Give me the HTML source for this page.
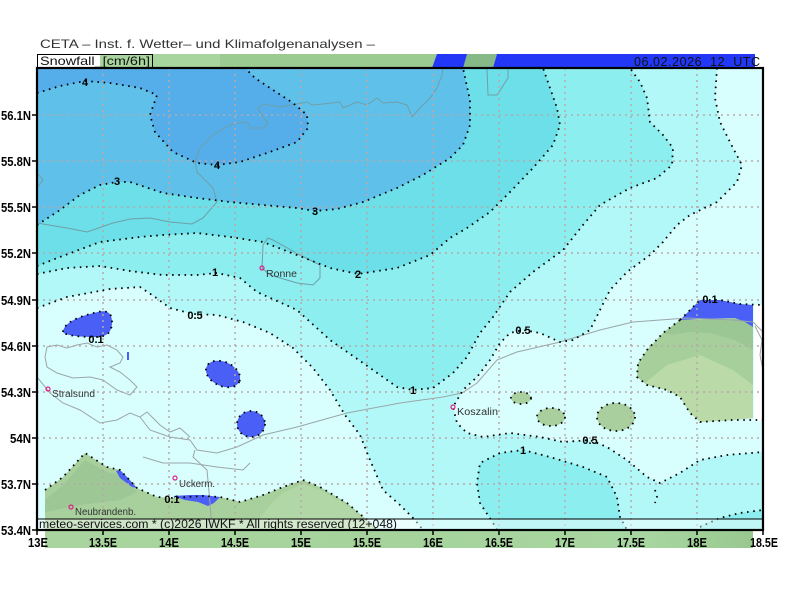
<!DOCTYPE html>
<html><head><meta charset="utf-8"><style>
html,body{margin:0;padding:0;background:#fff;}
svg{display:block;}
</style></head><body>
<svg width="800" height="600" viewBox="0 0 800 600" xmlns="http://www.w3.org/2000/svg">
<defs>
<clipPath id="fr"><rect x="37" y="68" width="726" height="462"/></clipPath>
<linearGradient id="bstrip" x1="0" x2="1" y1="0" y2="0">
<stop offset="0" stop-color="#a9d49f"/><stop offset="0.5" stop-color="#a6d39c"/><stop offset="0.85" stop-color="#a8d6a0"/><stop offset="1" stop-color="#98c88f"/>
</linearGradient>
</defs>
<rect width="800" height="600" fill="#fff"/>

<!-- title -->
<text x="40" y="48" font-family="Liberation Sans, sans-serif" font-size="12" fill="#333" textLength="335" lengthAdjust="spacingAndGlyphs">CETA – Inst. f. Wetter– und Klimafolgenanalysen –</text>

<!-- header strip -->
<rect x="37" y="54" width="726" height="14" fill="#9bcb91"/>
<rect x="100" y="54" width="120" height="14" fill="#a7d59d"/>
<polygon points="437,54 467,54 467,68 432,68" fill="#2238f6"/>
<polygon points="467,54 497,54 493,68 463,68" fill="#86b888"/>
<polygon points="497,54 755,54 755,68 493,68" fill="#2238f6"/>
<rect x="755" y="54" width="8" height="14" fill="#fff"/>
<rect x="37" y="54" width="63" height="14" fill="#fff"/>
<rect x="37.5" y="54.5" width="115" height="13" fill="none" stroke="#000" stroke-width="1"/>
<text x="40" y="65" font-family="Liberation Sans, sans-serif" font-size="12" fill="#111" textLength="110" lengthAdjust="spacingAndGlyphs">Snowfall_[cm/6h]</text>
<text x="634" y="66" font-family="Liberation Sans, sans-serif" font-size="12.5" fill="#111" textLength="126" lengthAdjust="spacing" xml:space="preserve">06.02.2026  12  UTC</text>

<!-- bottom strip -->
<rect x="45" y="531" width="708" height="17" fill="url(#bstrip)"/>

<g clip-path="url(#fr)">
<rect x="37" y="68" width="726" height="462" fill="#b3f8f8"/>
<polygon fill="#d9fefe" points="37,308 67,297 110,289 140,287 155,297 170,308 193,314 217,315 243,322 270,333 293,348 313,368 330,390 345,415 360,435 370,460 383,490 400,505 415,520 423,530 37,530"/>
<polygon fill="#d9fefe" points="717,68 715,98 720,122 733,148 742,165 737,182 717,202 690,215 677,225 663,242 650,255 627,272 610,290 600,310 590,330 573,340 560,342 540,333 523,330 510,333 500,343 490,360 477,377 463,390 453,407 457,423 467,433 483,437 510,433 540,437 563,442 590,440 607,447 627,460 647,477 660,483 680,473 700,460 727,455 763,452 763,68"/>
<polygon fill="#8ceeee" points="37,68 37,274 67,268 100,266 130,271 163,275 197,275 217,273 240,278 257,292 297,310 330,340 363,363 397,387 413,390 433,388 453,373 467,357 480,333 493,317 510,292 533,272 563,250 583,225 600,205 630,188 657,178 672,165 673,148 663,135 650,122 647,98 640,82 630,68"/>
<polygon fill="#8ceeee" points="477,483 480,463 500,453 523,450 550,457 583,467 607,477 617,497 620,517 627,530 497,530 493,523 480,503"/>
<polygon fill="#8ceeee" points="700,530 700,525 720,518 740,513 763,510 763,530"/>
<polygon fill="#6ddfe8" points="37,68 37,266 60,257 100,242 140,237 163,235 197,233 230,237 263,242 297,255 330,268 358,274 397,268 430,255 450,238 467,228 490,212 510,192 533,168 553,145 560,125 557,108 550,88 543,68"/>
<polygon fill="#5fc0ea" points="37,68 37,225 60,210 80,195 100,185 117,182 130,182 163,193 197,198 230,202 263,205 297,208 315,211 337,209 363,202 397,188 423,175 450,158 463,145 470,125 470,100 466,82 463,68"/>
<polygon fill="#55aee9" points="37,68 37,93 60,86 85,81 110,83 140,88 157,95 150,115 155,132 173,152 197,163 217,165 240,162 270,152 297,142 308,128 307,115 293,103 273,90 255,78 245,68"/>

<polygon fill="#a6cf9c" points="680,320 740,318 753,326 753,418 733,420 700,422 690,413 680,397 667,390 647,385 637,377 638,363 647,350 663,333"/>
<polygon fill="#9bc794" points="680,320 740,318 753,326 753,350 735,340 710,333 690,332 672,335 663,333"/>
<polygon fill="#badba8" points="645,383 667,365 700,355 733,370 753,385 753,418 733,420 700,422 690,413 680,397 667,390"/>
<polygon fill="#4a5ff5" points="680,320 690,310 700,300 720,300 740,304 753,305 753,327 745,322 735,318 700,319"/>
<rect x="754" y="305" width="9" height="116" fill="#fff"/>
<ellipse cx="521" cy="398" rx="10" ry="6" fill="#a9cf9f"/>
<ellipse cx="551" cy="417" rx="14" ry="9" fill="#a9cf9f"/>
<ellipse cx="616" cy="417" rx="19" ry="14" fill="#a9cf9f"/>
<polygon fill="#a7d09d" points="45,490 63,477 85,453 107,467 120,470 137,488 157,497 173,498 203,496 220,497 240,502 263,495 283,487 303,480 320,487 347,503 367,520 377,530 45,530"/>
<polygon fill="#b2d7a6" points="250,530 270,505 283,493 303,484 320,490 347,505 367,521 377,530"/>
<polygon fill="#9ec796" points="45,500 63,485 85,460 107,472 120,475 137,492 120,500 80,505 45,512"/>
<path fill="#4a5ff5" d="M63,332 C64,322 80,316 98,312 C106,310 112,312 112,322 C112,333 106,337 96,337 C82,337 66,336 63,332 Z"/>
<polygon fill="#4a5ff5" points="127,352 129,352 129,360 127,360"/>
<ellipse cx="223" cy="374" rx="18" ry="12" transform="rotate(25 223 374)" fill="#4a5ff5"/>
<ellipse cx="251" cy="424" rx="14" ry="13" fill="#4a5ff5"/>
<polygon fill="#4a5ff5" points="116,471 120,470 128,478 137,488 132,487 120,478"/>
<polygon fill="#4a5ff5" points="173,496 190,495 203,495 220,497 214,503 208,506 198,502 185,500"/>

<g fill="none" stroke="#6f9fa8" stroke-width="1">
<polyline points="130,219 150,218 170,222 192,224 203,218 217,202 213,188 197,172 195,162 200,148 213,135 230,125 243,122 248,123 250,128 263,128 268,123 263,117 258,108 263,104 280,107 297,104 307,102 312,105 323,104 340,102 343,108 357,102 367,105 377,98 383,103 397,102 407,105 412,117 420,108 430,98 437,88 442,75 443,68"/>
<polyline points="37,223 67,228 87,232 113,223 130,219"/>
<polyline points="37,173 43,180 37,188"/>
<polyline points="487,68 488,95 497,95 508,78 508,68"/>
<polygon points="262,268 263,245 268,238 273,240 300,255 320,265 320,278 313,285 297,283 270,275"/>
</g>
<g fill="none" stroke="#9aa6a8" stroke-width="1">
<polygon points="47,347 57,345 67,348 77,345 87,343 97,347 107,345 117,350 123,357 120,363 110,367 120,372 130,380 137,387 130,395 117,390 103,380 90,377 73,378 57,373 47,367 45,357"/>
<polyline points="37,377 50,393 63,403 80,410 100,423 117,420 130,413 140,417 150,430 170,437 190,440 197,450 217,453 237,447 263,435 297,427 347,413 400,403 443,397 462,393 477,383 497,360 517,352 560,342 600,330 633,322 687,318 733,320 753,322 763,332"/>
<polyline points="143,457 163,463 190,463 217,467 243,470 250,463"/>
<polyline points="195,450 193,457 207,470 210,503 212,530"/>
<polyline points="140,417 147,412 160,425 170,432 180,428 190,437"/>
<polyline points="755,326 762,340 760,355 763,370"/>
</g>

<g stroke="#b8a8a8" stroke-width="1.5" stroke-dasharray="2 4">
<line x1="103" y1="68" x2="103" y2="530"/><line x1="169" y1="68" x2="169" y2="530"/><line x1="235" y1="68" x2="235" y2="530"/><line x1="301" y1="68" x2="301" y2="530"/><line x1="367" y1="68" x2="367" y2="530"/><line x1="433" y1="68" x2="433" y2="530"/><line x1="499" y1="68" x2="499" y2="530"/><line x1="565" y1="68" x2="565" y2="530"/><line x1="631" y1="68" x2="631" y2="530"/><line x1="697" y1="68" x2="697" y2="530"/>
<line x1="37" y1="115" x2="763" y2="115"/><line x1="37" y1="161" x2="763" y2="161"/><line x1="37" y1="207" x2="763" y2="207"/><line x1="37" y1="253" x2="763" y2="253"/><line x1="37" y1="300" x2="763" y2="300"/><line x1="37" y1="346" x2="763" y2="346"/><line x1="37" y1="392" x2="763" y2="392"/><line x1="37" y1="438" x2="763" y2="438"/><line x1="37" y1="484" x2="763" y2="484"/>
</g>

<g fill="none" stroke="#000" stroke-width="1.8" stroke-dasharray="1.6 4.6" stroke-linecap="butt">
<polyline points="37,308 67,297 110,289 140,287 155,297 170,308 193,314 217,315 243,322 270,333 293,348 313,368 330,390 345,415 360,435 370,460 383,490 400,505 415,520 423,530"/>
<polyline points="717,68 715,98 720,122 733,148 742,165 737,182 717,202 690,215 677,225 663,242 650,255 627,272 610,290 600,310 590,330 573,340 560,342 540,333 523,330 510,333 500,343 490,360 477,377 463,390 453,407 457,423 467,433 483,437 510,433 540,437 563,442 590,440 607,447 627,460 647,477 660,483 680,473 700,460 727,455 763,452"/>
<polyline points="37,274 67,268 100,266 130,271 163,275 197,275 217,273 240,278 257,292 297,310 330,340 363,363 397,387 413,390 433,388 453,373 467,357 480,333 493,317 510,292 533,272 563,250 583,225 600,205 630,188 657,178 672,165 673,148 663,135 650,122 647,98 640,82 630,68"/>
<polyline points="497,530 493,523 480,503 477,483 480,463 500,453 523,450 550,457 583,467 607,477 617,497 620,517 627,530"/>
<polyline points="700,527 720,518 740,513 763,510"/>
<polyline points="37,266 60,257 100,242 140,237 163,235 197,233 230,237 263,242 297,255 330,268 358,274 397,268 430,255 450,238 467,228 490,212 510,192 533,168 553,145 560,125 557,108 550,88 543,68"/>
<polyline points="37,225 60,210 80,195 100,185 117,182 130,182 163,193 197,198 230,202 263,205 297,208 315,211 337,209 363,202 397,188 423,175 450,158 463,145 470,125 470,100 466,82 463,68"/>
<polyline points="37,93 60,86 85,81 110,83 140,88 157,95 150,115 155,132 173,152 197,163 217,165 240,162 270,152 297,142 308,128 307,115 293,103 273,90 255,78 245,68"/>
<polyline points="680,320 663,333 647,350 638,363 637,377 647,385 667,390 680,397 690,413 700,422 733,420 763,420"/>
<polyline points="680,320 690,310 700,300 720,300 740,304 763,305"/>
<ellipse cx="521" cy="398" rx="10" ry="6"/>
<ellipse cx="551" cy="417" rx="14" ry="9"/>
<ellipse cx="616" cy="417" rx="19" ry="14"/>
<path d="M63,332 C64,322 80,316 98,312 C106,310 112,312 112,322 C112,333 106,337 96,337 C82,337 66,336 63,332 Z"/>
<ellipse cx="223" cy="374" rx="18" ry="12" transform="rotate(25 223 374)"/>
<ellipse cx="251" cy="424" rx="14" ry="13"/>
<polyline points="45,490 63,477 85,453 107,467 120,470 137,488 157,497 173,498 203,496 220,497 240,502 263,495 283,487 303,480 320,487 347,503 367,520 377,530"/>
<polyline points="655,490 657,497 655,503"/>
</g>

<rect x="37" y="519" width="726" height="11" fill="#fff" fill-opacity="0.45"/>
<line x1="37" y1="519" x2="763" y2="519" stroke="#000" stroke-width="1"/>
</g>

<g font-family="Liberation Sans, sans-serif" font-size="11" font-weight="bold" fill="#000" text-anchor="middle">
<text x="85" y="86">4</text>
<text x="217" y="169">4</text>
<text x="117" y="185">3</text>
<text x="315" y="215">3</text>
<text x="358" y="278">2</text>
<text x="215" y="276">1</text>
<text x="195" y="319">0.5</text>
<text x="96" y="343">0.1</text>
<text x="413" y="394">1</text>
<text x="523" y="334">0.5</text>
<text x="590" y="444">0.5</text>
<text x="523" y="454">1</text>
<text x="172" y="503">0.1</text>
<text x="710" y="303">0.1</text>
</g>

<g fill="none" stroke="#e0208a" stroke-width="1.2">
<circle cx="48" cy="389" r="2"/><circle cx="262" cy="268" r="2"/><circle cx="453" cy="407" r="2"/><circle cx="175" cy="478" r="2"/><circle cx="71" cy="507" r="2"/>
</g>
<g font-family="Liberation Sans, sans-serif" font-size="10" fill="#333">
<text x="52" y="397" textLength="43" lengthAdjust="spacingAndGlyphs">Stralsund</text>
<text x="266" y="277" textLength="31" lengthAdjust="spacingAndGlyphs">Ronne</text>
<text x="457" y="415" textLength="41" lengthAdjust="spacingAndGlyphs">Koszalin</text>
<text x="179" y="487" textLength="36" lengthAdjust="spacingAndGlyphs">Uckerm.</text>
<text x="75" y="515" textLength="61" lengthAdjust="spacingAndGlyphs">Neubrandenb.</text>
</g>

<text x="39" y="528" font-family="Liberation Sans, sans-serif" font-size="11.5" fill="#111" textLength="358" lengthAdjust="spacingAndGlyphs">meteo-services.com * (c)2026 IWKF * All rights reserved (12+048)</text>

<rect x="37" y="68" width="726" height="462" fill="none" stroke="#000" stroke-width="2.2"/>

<g stroke="#000" stroke-width="1.5">
<line x1="32" y1="115" x2="37" y2="115"/><line x1="32" y1="161" x2="37" y2="161"/><line x1="32" y1="207" x2="37" y2="207"/><line x1="32" y1="253" x2="37" y2="253"/><line x1="32" y1="300" x2="37" y2="300"/><line x1="32" y1="346" x2="37" y2="346"/><line x1="32" y1="392" x2="37" y2="392"/><line x1="32" y1="438" x2="37" y2="438"/><line x1="32" y1="484" x2="37" y2="484"/><line x1="32" y1="530" x2="37" y2="530"/>
<line x1="37" y1="530" x2="37" y2="535"/><line x1="103" y1="530" x2="103" y2="535"/><line x1="169" y1="530" x2="169" y2="535"/><line x1="235" y1="530" x2="235" y2="535"/><line x1="301" y1="530" x2="301" y2="535"/><line x1="367" y1="530" x2="367" y2="535"/><line x1="433" y1="530" x2="433" y2="535"/><line x1="499" y1="530" x2="499" y2="535"/><line x1="565" y1="530" x2="565" y2="535"/><line x1="631" y1="530" x2="631" y2="535"/><line x1="697" y1="530" x2="697" y2="535"/><line x1="763" y1="530" x2="763" y2="535"/>
</g>

<g font-family="Liberation Sans Narrow, Liberation Sans, sans-serif" font-size="13" font-weight="bold" fill="#000">
<text x="1" y="120" textLength="30" lengthAdjust="spacingAndGlyphs">56.1N</text>
<text x="1" y="166" textLength="30" lengthAdjust="spacingAndGlyphs">55.8N</text>
<text x="1" y="212" textLength="30" lengthAdjust="spacingAndGlyphs">55.5N</text>
<text x="1" y="258" textLength="30" lengthAdjust="spacingAndGlyphs">55.2N</text>
<text x="1" y="305" textLength="30" lengthAdjust="spacingAndGlyphs">54.9N</text>
<text x="1" y="351" textLength="30" lengthAdjust="spacingAndGlyphs">54.6N</text>
<text x="1" y="397" textLength="30" lengthAdjust="spacingAndGlyphs">54.3N</text>
<text x="10" y="443" textLength="21" lengthAdjust="spacingAndGlyphs">54N</text>
<text x="1" y="489" textLength="30" lengthAdjust="spacingAndGlyphs">53.7N</text>
<text x="1" y="535" textLength="30" lengthAdjust="spacingAndGlyphs">53.4N</text>
</g>
<g font-family="Liberation Sans Narrow, Liberation Sans, sans-serif" font-size="13" font-weight="bold" fill="#000">
<text x="28" y="547" textLength="20" lengthAdjust="spacingAndGlyphs">13E</text>
<text x="89" y="547" textLength="28" lengthAdjust="spacingAndGlyphs">13.5E</text>
<text x="159" y="547" textLength="20" lengthAdjust="spacingAndGlyphs">14E</text>
<text x="221" y="547" textLength="28" lengthAdjust="spacingAndGlyphs">14.5E</text>
<text x="291" y="547" textLength="20" lengthAdjust="spacingAndGlyphs">15E</text>
<text x="353" y="547" textLength="28" lengthAdjust="spacingAndGlyphs">15.5E</text>
<text x="423" y="547" textLength="20" lengthAdjust="spacingAndGlyphs">16E</text>
<text x="485" y="547" textLength="28" lengthAdjust="spacingAndGlyphs">16.5E</text>
<text x="555" y="547" textLength="20" lengthAdjust="spacingAndGlyphs">17E</text>
<text x="617" y="547" textLength="28" lengthAdjust="spacingAndGlyphs">17.5E</text>
<text x="687" y="547" textLength="20" lengthAdjust="spacingAndGlyphs">18E</text>
<text x="750" y="547" textLength="28" lengthAdjust="spacingAndGlyphs">18.5E</text>
</g>
</svg>
</body></html>
